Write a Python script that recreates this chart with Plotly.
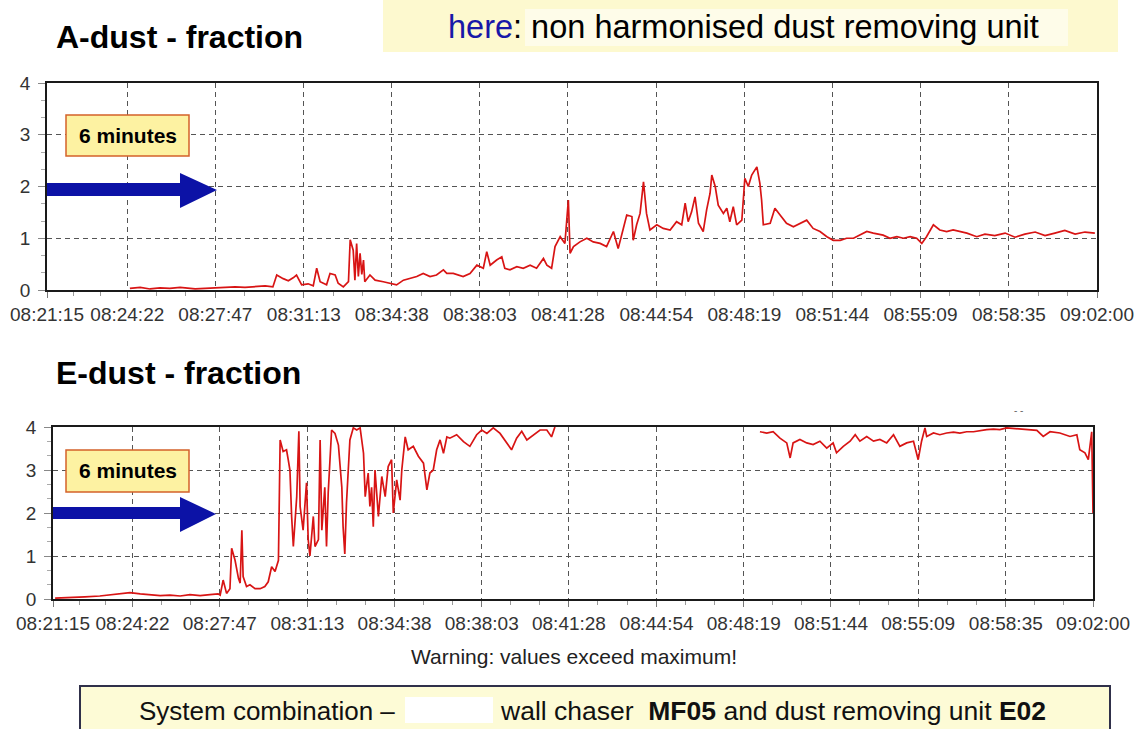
import pandas as pd
import plotly.graph_objects as go

W, H = 1138, 729
FONT = "Liberation Sans, Arial, sans-serif"
RED = "#d81414"
BLUE = "#0c12a6"

DAY = "2000-01-01"
START = pd.Timestamp(f"{DAY} 08:21:15")

tick_labels = ["08:21:15", "08:24:22", "08:27:47", "08:31:13", "08:34:38",
               "08:38:03", "08:41:28", "08:44:54", "08:48:19", "08:51:44",
               "08:55:09", "08:58:35", "09:02:00"]
y_ticks = [0, 1, 2, 3, 4]

# A-dust fraction: seconds elapsed since 08:21:15 and measured fraction
a_sec = [193, 217, 240, 263, 286, 310, 345, 368, 391, 414,
         438, 461, 484, 508, 526, 535, 550, 562, 574, 581,
         593, 608, 620, 628, 636, 651, 659, 671, 678, 690,
         702, 706, 713, 717, 721, 725, 729, 733, 737, 740,
         752, 764, 783, 799, 814, 830, 845, 861, 876, 892,
         907, 923, 931, 946, 969, 985, 1001, 1016, 1024, 1032,
         1047, 1059, 1066, 1078, 1094, 1109, 1125, 1140, 1156, 1164,
         1175, 1183, 1195, 1206, 1214, 1218, 1226, 1241, 1257, 1272,
         1288, 1303, 1319, 1330, 1342, 1350, 1362, 1365, 1373, 1381,
         1389, 1396, 1404, 1420, 1435, 1451, 1466, 1478, 1486, 1493,
         1501, 1509, 1517, 1528, 1536, 1544, 1548, 1556, 1563, 1575,
         1583, 1590, 1598, 1606, 1618, 1625, 1633, 1641, 1653, 1660,
         1664, 1668, 1684, 1695, 1707, 1722, 1738, 1753, 1769, 1784,
         1800, 1816, 1831, 1847, 1862, 1878, 1893, 1909, 1924, 1947,
         1963, 1979, 1994, 2010, 2025, 2037, 2048, 2064, 2079, 2095,
         2110, 2126, 2142, 2165, 2184, 2207, 2231, 2254, 2277, 2301,
         2324, 2347, 2370, 2394, 2417, 2440]
a_val = [0.03, 0.05, 0.02, 0.04, 0.03, 0.05, 0.02, 0.03, 0.04, 0.05,
         0.06, 0.05, 0.07, 0.08, 0.06, 0.29, 0.22, 0.18, 0.24, 0.29,
         0.10, 0.12, 0.08, 0.42, 0.16, 0.10, 0.32, 0.29, 0.13, 0.06,
         0.16, 0.97, 0.77, 0.19, 0.90, 0.26, 0.71, 0.30, 0.58, 0.16,
         0.29, 0.19, 0.16, 0.13, 0.10, 0.19, 0.23, 0.26, 0.32, 0.26,
         0.29, 0.39, 0.32, 0.32, 0.26, 0.32, 0.48, 0.42, 0.74, 0.48,
         0.58, 0.64, 0.42, 0.39, 0.45, 0.42, 0.48, 0.42, 0.61, 0.48,
         0.42, 0.84, 1.03, 0.90, 1.74, 0.71, 0.84, 0.93, 1.00, 0.93,
         0.90, 0.84, 1.13, 0.80, 1.19, 1.45, 1.42, 0.96, 1.26, 1.48,
         2.09, 1.48, 1.16, 1.26, 1.19, 1.16, 1.32, 1.26, 1.68, 1.32,
         1.51, 1.80, 1.29, 1.13, 1.55, 1.87, 2.22, 2.00, 1.64, 1.48,
         1.58, 1.32, 1.61, 1.26, 1.35, 2.16, 2.00, 2.22, 2.38, 2.06,
         1.74, 1.26, 1.29, 1.58, 1.45, 1.29, 1.22, 1.29, 1.35, 1.19,
         1.13, 1.03, 0.96, 0.96, 1.00, 1.00, 1.06, 1.13, 1.10, 1.06,
         1.00, 1.03, 1.00, 1.03, 1.00, 0.90, 1.03, 1.26, 1.16, 1.13,
         1.16, 1.13, 1.10, 1.03, 1.08, 1.05, 1.10, 1.02, 1.08, 1.12,
         1.05, 1.10, 1.15, 1.08, 1.12, 1.10]

# E-dust fraction: None where the reading is above the displayed maximum
e_sec = [5, 40, 75, 110, 134, 158, 181, 205, 228, 252,
         275, 299, 322, 346, 369, 388, 393, 400, 408, 416,
         420, 428, 436, 440, 444, 447, 455, 463, 475, 487,
         498, 506, 514, 522, 530, 534, 541, 549, 553, 557,
         561, 565, 573, 578, 581, 588, 596, 600, 604, 612,
         616, 624, 628, 632, 639, 643, 647, 655, 663, 671,
         679, 682, 686, 690, 698, 706, 714, 722, 730, 734,
         741, 745, 749, 753, 757, 765, 773, 781, 788, 796,
         800, 808, 816, 820, 828, 835, 847, 859, 871, 879,
         886, 894, 902, 910, 918, 926, 933, 949, 965, 980,
         996, 1008, 1020, 1035, 1051, 1067, 1078, 1090, 1102, 1114,
         1129, 1145, 1161, 1172, 1180, 1420, 1662, 1678, 1693, 1709,
         1725, 1733, 1740, 1756, 1772, 1787, 1803, 1819, 1834, 1842,
         1858, 1874, 1886, 1897, 1913, 1929, 1944, 1960, 1976, 1991,
         2007, 2023, 2034, 2042, 2050, 2054, 2070, 2085, 2101, 2117,
         2132, 2148, 2164, 2179, 2195, 2211, 2226, 2242, 2266, 2289,
         2313, 2328, 2344, 2367, 2391, 2407, 2414, 2426, 2434, 2442,
         2445]
e_val = [0.02, 0.03, 0.05, 0.07, 0.10, 0.13, 0.15, 0.12, 0.10, 0.08,
         0.09, 0.07, 0.10, 0.08, 0.10, 0.12, 0.09, 0.44, 0.13, 0.24,
         1.18, 0.90, 0.48, 0.37, 1.60, 0.52, 0.29, 0.33, 0.24, 0.24,
         0.29, 0.40, 0.75, 0.64, 0.90, 3.70, 3.43, 3.47, 3.24, 3.00,
         1.92, 1.22, 2.38, 3.90, 2.15, 1.60, 2.70, 1.38, 1.00, 1.92,
         1.22, 1.38, 3.70, 1.60, 2.60, 1.22, 2.47, 3.93, 3.85, 3.58,
         2.60, 1.68, 1.05, 2.24, 3.70, 3.98, 3.93, 3.98, 3.39, 2.38,
         2.93, 2.15, 2.60, 1.68, 3.00, 1.92, 2.85, 2.38, 3.08, 3.24,
         2.00, 2.77, 2.30, 3.00, 3.77, 3.47, 3.55, 3.32, 3.16, 2.54,
         2.93, 3.00, 3.47, 3.70, 3.39, 3.77, 3.74, 3.82, 3.66, 3.55,
         3.82, 3.93, 3.85, 3.98, 3.85, 3.62, 3.47, 3.74, 3.90, 3.70,
         3.82, 3.93, 3.93, 3.77, 4.00, None, 3.89, 3.86, 3.89, 3.74,
         3.63, 3.28, 3.63, 3.71, 3.63, 3.59, 3.67, 3.51, 3.63, 3.40,
         3.55, 3.67, 3.82, 3.67, 3.78, 3.67, 3.71, 3.63, 3.82, 3.55,
         3.63, 3.67, 3.24, 3.67, 3.98, 3.78, 3.86, 3.82, 3.86, 3.88,
         3.86, 3.89, 3.89, 3.92, 3.94, 3.95, 3.94, 3.98, 3.96, 3.94,
         3.92, 3.78, 3.89, 3.86, 3.78, 3.82, 3.47, 3.40, 3.24, 3.89,
         2.00]

tick_vals = [pd.Timestamp(f"{DAY} {t}") for t in tick_labels]
minor_vals = []
for a, b in zip(tick_vals[:-1], tick_vals[1:]):
    minor_vals += [a + (b - a) / 3, a + 2 * (b - a) / 3]

a_time = START + pd.to_timedelta(a_sec, unit="s")
e_time = START + pd.to_timedelta(e_sec, unit="s")


def px(x, y):
    """Pixel position on the page -> paper coordinates."""
    return x / W, 1 - y / H


def poly(points):
    return "M " + " L ".join("%.5f,%.5f" % px(x, y) for x, y in points) + " Z"


fig = go.Figure()
fig.add_trace(go.Scatter(x=a_time, y=a_val, mode="lines",
                         line=dict(color=RED, width=1.7),
                         xaxis="x", yaxis="y", showlegend=False))
fig.add_trace(go.Scatter(x=e_time, y=e_val, mode="lines", connectgaps=False,
                         line=dict(color=RED, width=1.7),
                         xaxis="x2", yaxis="y2", showlegend=False))


def x_axis(domain, anchor):
    return dict(domain=domain, anchor=anchor, type="date", automargin=False,
                range=[tick_vals[0], tick_vals[-1]],
                tickmode="array", tickvals=tick_vals, ticktext=tick_labels,
                tickangle=0,
                ticks="outside", ticklen=6, tickcolor="#777",
                tickfont=dict(family=FONT, size=19, color="#333"),
                showline=True, linecolor="#1a1a1a", linewidth=1.6, mirror=True,
                showgrid=True, gridcolor="#555", gridwidth=1, griddash="5px,4px",
                zeroline=False,
                minor=dict(tickmode="array", tickvals=minor_vals, ticks="outside",
                           ticklen=4, tickcolor="#999", showgrid=False))


def y_axis(domain, anchor):
    return dict(domain=domain, anchor=anchor, range=[0, 4], automargin=False,
                tickmode="array", tickvals=y_ticks,
                ticks="outside", ticklen=7, tickcolor="#888",
                ticklabelstandoff=4,
                tickfont=dict(family=FONT, size=19, color="#333"),
                showline=True, linecolor="#1a1a1a", linewidth=1.6, mirror=True,
                showgrid=True, gridcolor="#555", gridwidth=1, griddash="5px,4px",
                zeroline=False,
                minor=dict(dtick=1 / 3, tick0=0, ticks="outside", ticklen=4,
                           tickcolor="#aaa", showgrid=False))


shapes = [
    # header banner
    dict(type="rect", xref="paper", yref="paper",
         x0=px(383, 0)[0], x1=px(1118, 0)[0], y0=px(0, 52)[1], y1=1.0,
         fillcolor="#fdf9cf", line=dict(width=0), layer="below"),
    dict(type="rect", xref="paper", yref="paper",
         x0=px(525, 0)[0], x1=px(1068, 0)[0], y0=px(0, 46)[1], y1=px(0, 9)[1],
         fillcolor="rgba(255,255,255,0.55)", line=dict(width=0), layer="below"),
    # footer box
    dict(type="rect", xref="paper", yref="paper",
         x0=px(80, 0)[0], x1=px(1110, 0)[0], y0=-0.02, y1=px(0, 686)[1],
         fillcolor="#fdfbd6", line=dict(color="#30304a", width=2)),
    dict(type="rect", xref="paper", yref="paper",
         x0=px(405, 0)[0], x1=px(493, 0)[0], y0=px(0, 723)[1], y1=px(0, 697)[1],
         fillcolor="white", line=dict(width=0)),
    # "6 minutes" boxes
    dict(type="rect", xref="paper", yref="paper",
         x0=px(66, 0)[0], x1=px(189, 0)[0], y0=px(0, 156)[1], y1=px(0, 115)[1],
         fillcolor="#fdf2a2", line=dict(color="#d4622a", width=1.5)),
    dict(type="rect", xref="paper", yref="paper",
         x0=px(66, 0)[0], x1=px(189, 0)[0], y0=px(0, 492)[1], y1=px(0, 450)[1],
         fillcolor="#fdf2a2", line=dict(color="#d4622a", width=1.5)),
    # blue arrows
    dict(type="path", xref="paper", yref="paper", fillcolor=BLUE, line=dict(width=0),
         path=poly([(47, 183), (180, 183), (180, 173), (217, 190),
                    (180, 208), (180, 196), (47, 196)])),
    dict(type="path", xref="paper", yref="paper", fillcolor=BLUE, line=dict(width=0),
         path=poly([(53, 507), (180, 507), (180, 497), (216, 514),
                    (180, 532), (180, 519), (53, 519)])),
]


def label(x, y, text, size, color="black", anchor="left"):
    px_x, px_y = px(x, y)
    return dict(xref="paper", yref="paper", x=px_x, y=px_y, text=text,
                showarrow=False, xanchor=anchor, yanchor="middle",
                font=dict(family=FONT, size=size, color=color))


annotations = [
    label(54, 37, "<b>A-dust - fraction</b>", 32),
    label(54, 373, "<b>E-dust - fraction</b>", 32),
    label(446, 27, "<span style='color:#1818a8'>here</span>: non harmonised dust removing unit", 32.5),
    label(127.5, 135.5, "<b>6 minutes</b>", 21, anchor="center"),
    label(127.5, 471, "<b>6 minutes</b>", 21, anchor="center"),
    label(574, 656, "Warning: values exceed maximum!", 21, color="#222", anchor="center"),
    label(137, 711, "System combination \u2013", 26, color="#111"),
    label(498, 711, "wall chaser  <b>MF05</b> and dust removing unit <b>E02</b>", 26.5, color="#111"),
    label(1018, 410, "- -", 10, color="#666", anchor="center"),
]

fig.update_layout(
    width=W, height=H, autosize=False,
    margin=dict(l=0, r=0, t=0, b=0, autoexpand=False),
    paper_bgcolor="white", plot_bgcolor="white",
    hovermode=False,
    xaxis=x_axis([47 / W, 1097 / W], "y"),
    yaxis=y_axis([1 - 290 / H, 1 - 83 / H], "x"),
    xaxis2=x_axis([53 / W, 1093 / W], "y2"),
    yaxis2=y_axis([1 - 599 / H, 1 - 427 / H], "x2"),
    shapes=shapes,
    annotations=annotations,
)

fig.write_html("out.html")
